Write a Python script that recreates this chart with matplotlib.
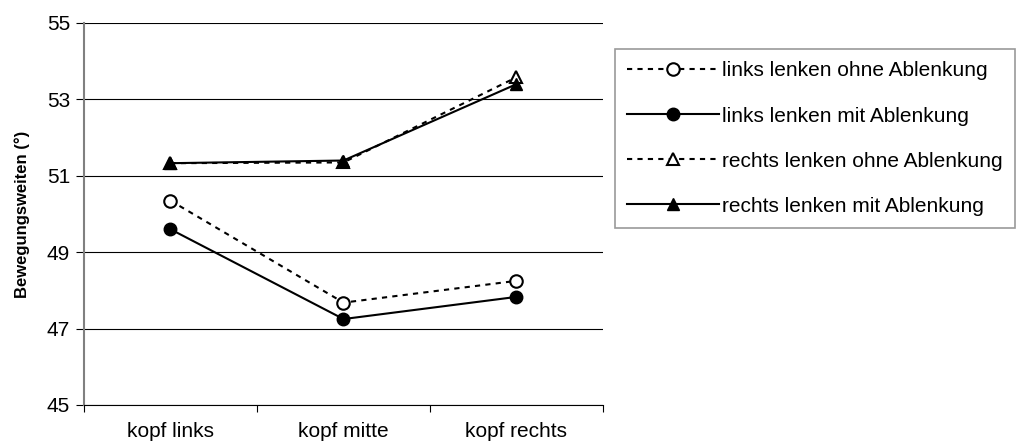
import matplotlib
matplotlib.use("Agg")
import matplotlib.pyplot as plt

plt.rcParams['font.family'] = ['Liberation Sans', 'DejaVu Sans']

categories = ["kopf links", "kopf mitte", "kopf rechts"]
links_ohne = [50.35, 47.68, 48.25]
links_mit = [49.6, 47.25, 47.83]
rechts_ohne = [51.33, 51.35, 53.58]
rechts_mit = [51.33, 51.40, 53.40]

fig = plt.figure(figsize=(10.2, 4.44), dpi=100)
ax = fig.add_axes([84 / 1020, 1 - 405 / 444, (603 - 84) / 1020, (405 - 23) / 444])

x = range(len(categories))
dash = (0, (2.5, 2.5))
ax.plot(x, links_ohne, linestyle=dash, color="black", lw=1.5, marker="o",
        ms=9, mfc="white", mec="black", mew=1.5, label="links lenken ohne Ablenkung")
ax.plot(x, links_mit, linestyle="-", color="black", lw=1.5, marker="o",
        ms=9, mfc="black", mec="black", label="links lenken mit Ablenkung")
ax.plot(x, rechts_ohne, linestyle=dash, color="black", lw=1.5, marker="^",
        ms=9, mfc="white", mec="black", mew=1.5, label="rechts lenken ohne Ablenkung")
ax.plot(x, rechts_mit, linestyle="-", color="black", lw=1.5, marker="^",
        ms=9, mfc="black", mec="black", label="rechts lenken mit Ablenkung")

ax.set_xlim(-0.5, 2.5)
ax.set_ylim(45, 55)
ax.set_yticks([45, 47, 49, 51, 53, 55])
ax.yaxis.grid(True, color="black", lw=0.8)
ax.set_axisbelow(True)

# category labels centred, ticks between categories
ax.set_xticks([-0.5, 0.5, 1.5, 2.5])
ax.set_xticklabels([])
ax.set_xticks(list(x), minor=True)
ax.set_xticklabels(categories, minor=True)
ax.tick_params(axis="x", which="minor", length=0, pad=12, labelsize=15)
ax.tick_params(axis="x", which="major", length=5, direction="out", width=0.8)
ax.tick_params(axis="y", length=6, direction="out", width=0.8, labelsize=15, pad=4)

for s in ["top", "right"]:
    ax.spines[s].set_visible(False)
ax.spines["left"].set_color("#808080")
ax.spines["left"].set_linewidth(1.5)
ax.spines["bottom"].set_color("black")

ax.set_ylabel("Bewegungsweiten (°)", fontsize=12, fontweight="bold", labelpad=12)

leg = fig.legend(loc="upper left", bbox_to_anchor=(615 / 1020, 1 - 49 / 444),
                 fontsize=15, handlelength=4.4, labelspacing=1.25, borderpad=0.6,
                 handletextpad=0.15, fancybox=False, frameon=True, borderaxespad=0)
leg.get_frame().set_edgecolor("#808080")
leg.get_frame().set_linewidth(1.2)

fig.savefig("out.png", dpi=100)
